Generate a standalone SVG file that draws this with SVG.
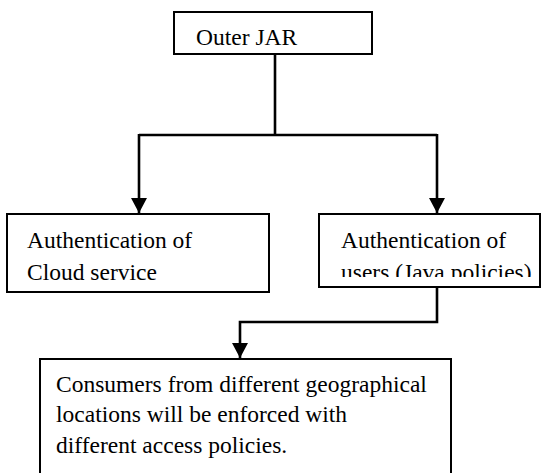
<svg xmlns="http://www.w3.org/2000/svg" width="551" height="473" viewBox="0 0 551 473">
  <style>
    .box { fill: #ffffff; stroke: #000000; stroke-width: 2; }
    .lbl { font-family: "Liberation Serif", "Times New Roman", serif; font-size: 23.5px; fill: #000000; }
    .wire { fill: none; stroke: #000000; stroke-width: 2.6; }
  </style>
  <defs>
    <marker id="head" viewBox="0 0 15 16" refX="15" refY="8" markerWidth="15" markerHeight="16" markerUnits="userSpaceOnUse" orient="auto">
      <path d="M0,0 L15,8 L0,16 Z" fill="#000000"/>
    </marker>
    <!-- second line of the users box is cut off by its frame -->
    <clipPath id="usersClip">
      <rect x="319" y="214" width="232" height="63"/>
    </clipPath>
  </defs>
  <rect width="551" height="473" fill="#ffffff"/>

  <g id="connectors">
    <path class="wire" d="M275,54 V135"/>
    <path class="wire" d="M139,135 H437"/>
    <path class="wire" d="M139,134 V213" marker-end="url(#head)"/>
    <path class="wire" d="M437,134 V213" marker-end="url(#head)"/>
    <path class="wire" d="M437,287 V322 H240 V358" marker-end="url(#head)"/>
  </g>

  <g id="outer-jar">
    <rect class="box" x="174" y="12" width="198" height="42"/>
    <text class="lbl" x="196" y="45">Outer JAR</text>
  </g>

  <g id="auth-cloud">
    <rect class="box" x="7" y="214" width="262" height="78"/>
    <text class="lbl" x="27" y="248">Authentication of</text>
    <text class="lbl" x="27" y="280">Cloud service</text>
  </g>

  <g id="auth-users">
    <rect class="box" x="319" y="214" width="221" height="73"/>
    <g clip-path="url(#usersClip)">
      <text class="lbl" x="341" y="248">Authentication of</text>
      <text class="lbl" x="341" y="280">users (Java policies)</text>
    </g>
  </g>

  <g id="consumers">
    <rect class="box" x="40" y="359" width="411" height="130"/>
    <text class="lbl" x="56" y="392">Consumers from different geographical</text>
    <text class="lbl" x="56" y="422">locations will be enforced with</text>
    <text class="lbl" x="56" y="453">different access policies.</text>
  </g>
</svg>
